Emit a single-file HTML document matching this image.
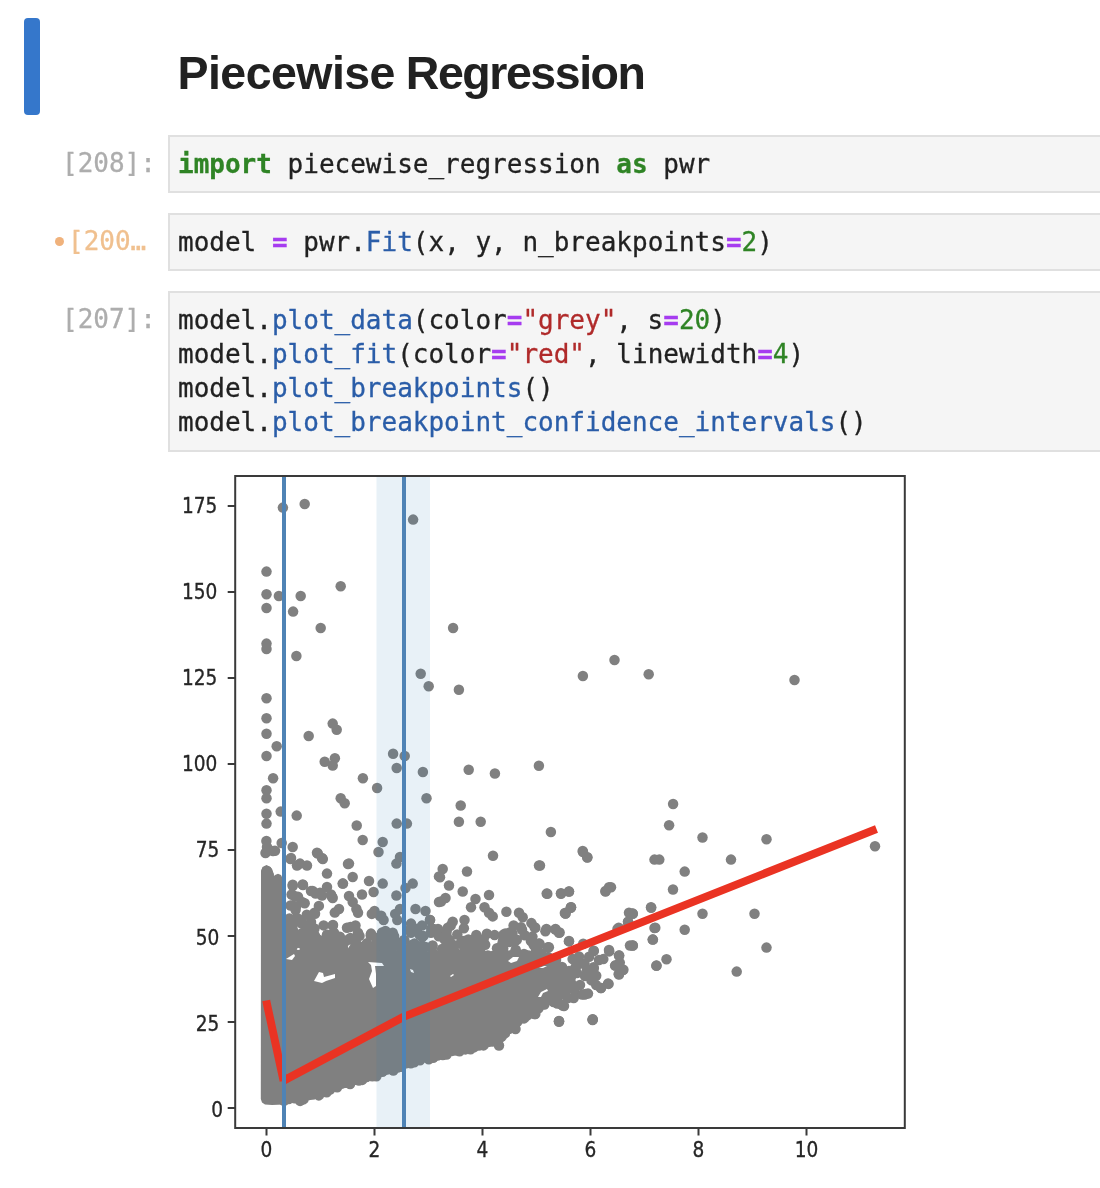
<!DOCTYPE html>
<html lang="en">
<head>
<meta charset="utf-8">
<title>Piecewise Regression</title>
<style>
html,body{margin:0;padding:0;background:#fff;}
body{width:1100px;height:1188px;position:relative;overflow:hidden;font-family:"Liberation Sans",sans-serif;}
.bar{position:absolute;left:24px;top:18px;width:16px;height:97px;background:#3577cb;border-radius:4px;}
h1{position:absolute;left:177.5px;top:44.5px;margin:0;font-family:"Liberation Sans",sans-serif;font-weight:bold;font-size:46.5px;line-height:56px;color:#212121;letter-spacing:-0.55px;word-spacing:-1.5px;white-space:nowrap;}
.cell{position:absolute;left:168px;width:940px;box-sizing:border-box;border:2px solid #e0e0e0;background:#f5f5f5;}
.cell pre{margin:0;padding:10px 0 0 8px;font-family:"DejaVu Sans Mono","Liberation Mono",monospace;font-size:26px;line-height:34px;color:#212121;white-space:pre;-webkit-text-stroke:0.3px;}
.prompt{position:absolute;font-family:"DejaVu Sans Mono","Liberation Mono",monospace;font-size:26px;line-height:34px;color:#adadad;white-space:pre;-webkit-text-stroke:0.3px;}
.prompt.dirty{color:#f0c08f;}
.dot{position:absolute;left:55px;top:237px;width:9px;height:9px;border-radius:50%;background:#f0b27c;}
.k{color:#2f8425;font-weight:bold;}
.o{color:#a63cf0;font-weight:bold;}
.n{color:#2f8425;}
.f{color:#2a5da8;}
.s{color:#b02a2a;}
#plot{position:absolute;left:0;top:456px;}
</style>
</head>
<body>
<div class="bar"></div>
<h1>Piecewise <span style="letter-spacing:-1.45px">Regression</span></h1>

<div class="prompt" style="left:62px;top:146px;">[208]:</div>
<div class="cell" style="top:135px;height:58px;"><pre><span class="k">import</span> piecewise_regression <span class="k">as</span> pwr</pre></div>

<div class="dot"></div>
<div class="prompt dirty" style="left:68px;top:224px;">[200…</div>
<div class="cell" style="top:213px;height:58px;"><pre>model <span class="o">=</span> pwr.<span class="f">Fit</span>(x, y, n_breakpoints<span class="o">=</span><span class="n">2</span>)</pre></div>

<div class="prompt" style="left:62px;top:302px;">[207]:</div>
<div class="cell" style="top:291px;height:161px;"><pre>model.<span class="f">plot_data</span>(color<span class="o">=</span><span class="s">"grey"</span>, s<span class="o">=</span><span class="n">20</span>)
model.<span class="f">plot_fit</span>(color<span class="o">=</span><span class="s">"red"</span>, linewidth<span class="o">=</span><span class="n">4</span>)
model.<span class="f">plot_breakpoints</span>()
model.<span class="f">plot_breakpoint_confidence_intervals</span>()</pre></div>

<svg id="plot" width="1100" height="732" viewBox="0 456 1100 732">
<!--PLOT-->
<defs><filter id="bl" color-interpolation-filters="sRGB" x="0" y="456" width="1100" height="732" filterUnits="userSpaceOnUse"><feGaussianBlur stdDeviation="0.7"/></filter></defs>
<g filter="url(#bl)">
<polygon fill="#808080" points="261.0,871.0 262.5,867.0 266.5,865.0 270.5,867.0 272.0,871.0 272.6,878.0 275.0,875.0 278.0,873.7 281.0,875.0 283.5,880.0 285.0,949.0 290.0,950.5 300.0,950.6 310.0,950.7 320.0,950.7 330.0,950.8 340.0,950.9 350.0,951.0 360.0,951.0 370.0,951.1 380.0,951.2 390.0,951.2 400.0,951.3 410.0,951.4 420.0,951.4 430.0,951.5 440.0,951.6 450.0,951.8 460.0,951.9 470.0,952.1 480.0,952.2 490.0,952.4 500.0,952.5 510.0,951.8 520.0,951.2 530.0,950.5 540.0,955.8 550.0,961.5 560.0,967.5 570.0,975.5 575.0,983.0 570.0,990.8 560.0,999.5 550.0,1004.2 540.0,1009.2 530.0,1014.5 520.0,1023.8 510.0,1033.5 500.0,1043.5 490.0,1046.7 480.0,1049.1 470.0,1051.5 460.0,1053.8 450.0,1055.9 440.0,1058.1 430.0,1060.3 420.0,1063.7 410.0,1067.1 400.0,1070.4 390.0,1073.8 380.0,1077.1 370.0,1080.2 360.0,1083.3 350.0,1086.3 340.0,1089.4 330.0,1092.5 320.0,1096.7 310.0,1100.0 300.0,1102.5 290.0,1103.0 284.0,1104.5 272.0,1105.0 265.0,1104.5 262.0,1102.5 260.8,1099.0"/>
<g fill="#808080"><circle cx="266.8" cy="1019.4" r="5.25"/><circle cx="267.0" cy="887.5" r="5.25"/><circle cx="267.4" cy="884.2" r="5.25"/><circle cx="266.7" cy="986.7" r="5.25"/><circle cx="267.5" cy="886.9" r="5.25"/><circle cx="266.7" cy="891.7" r="5.25"/><circle cx="268.2" cy="899.2" r="5.25"/><circle cx="267.4" cy="921.9" r="5.25"/><circle cx="268.2" cy="1002.6" r="5.25"/><circle cx="268.2" cy="961.4" r="5.25"/><circle cx="266.8" cy="1066.7" r="5.25"/><circle cx="266.5" cy="937.0" r="5.25"/><circle cx="266.8" cy="941.3" r="5.25"/><circle cx="266.9" cy="1057.1" r="5.25"/><circle cx="267.1" cy="1016.7" r="5.25"/><circle cx="267.7" cy="955.9" r="5.25"/><circle cx="266.8" cy="884.6" r="5.25"/><circle cx="266.6" cy="918.0" r="5.25"/><circle cx="266.9" cy="942.6" r="5.25"/><circle cx="267.5" cy="1004.5" r="5.25"/><circle cx="267.3" cy="1052.1" r="5.25"/><circle cx="266.7" cy="1030.4" r="5.25"/><circle cx="266.5" cy="990.7" r="5.25"/><circle cx="267.8" cy="1070.5" r="5.25"/><circle cx="266.6" cy="1094.5" r="5.25"/><circle cx="267.3" cy="897.9" r="5.25"/><circle cx="268.0" cy="905.7" r="5.25"/><circle cx="267.3" cy="982.5" r="5.25"/><circle cx="267.9" cy="1045.3" r="5.25"/><circle cx="266.9" cy="1001.6" r="5.25"/><circle cx="267.1" cy="1029.5" r="5.25"/><circle cx="267.1" cy="1006.5" r="5.25"/><circle cx="267.5" cy="1062.5" r="5.25"/><circle cx="267.0" cy="1086.4" r="5.25"/><circle cx="268.0" cy="884.8" r="5.25"/><circle cx="266.7" cy="1030.9" r="5.25"/><circle cx="268.4" cy="1058.4" r="5.25"/><circle cx="269.0" cy="935.9" r="5.25"/><circle cx="267.6" cy="876.1" r="5.25"/><circle cx="267.5" cy="976.3" r="5.25"/><circle cx="266.7" cy="884.4" r="5.25"/><circle cx="266.9" cy="1046.2" r="5.25"/><circle cx="267.0" cy="960.1" r="5.25"/><circle cx="267.0" cy="1069.7" r="5.25"/><circle cx="267.5" cy="996.3" r="5.25"/><circle cx="267.0" cy="1072.4" r="5.25"/><circle cx="267.3" cy="934.5" r="5.25"/><circle cx="268.3" cy="965.7" r="5.25"/><circle cx="267.8" cy="1089.4" r="5.25"/><circle cx="268.1" cy="905.4" r="5.25"/><circle cx="266.8" cy="924.2" r="5.25"/><circle cx="267.1" cy="981.6" r="5.25"/><circle cx="267.2" cy="871.9" r="5.25"/><circle cx="266.9" cy="966.5" r="5.25"/><circle cx="267.4" cy="1088.3" r="5.25"/><circle cx="267.4" cy="1028.4" r="5.25"/><circle cx="267.9" cy="1025.2" r="5.25"/><circle cx="266.6" cy="883.3" r="5.25"/><circle cx="267.9" cy="1070.4" r="5.25"/><circle cx="267.5" cy="1052.9" r="5.25"/><circle cx="267.3" cy="894.6" r="5.25"/><circle cx="267.1" cy="1015.6" r="5.25"/><circle cx="266.8" cy="918.6" r="5.25"/><circle cx="266.6" cy="908.0" r="5.25"/><circle cx="266.7" cy="871.1" r="5.25"/><circle cx="266.8" cy="905.5" r="5.25"/><circle cx="267.3" cy="876.8" r="5.25"/><circle cx="267.1" cy="1070.3" r="5.25"/><circle cx="266.9" cy="928.5" r="5.25"/><circle cx="266.9" cy="950.2" r="5.25"/><circle cx="266.8" cy="1064.6" r="5.25"/><circle cx="266.9" cy="1097.4" r="5.25"/><circle cx="267.6" cy="890.6" r="5.25"/><circle cx="266.7" cy="894.3" r="5.25"/><circle cx="266.9" cy="1060.0" r="5.25"/><circle cx="267.2" cy="907.8" r="5.25"/><circle cx="268.9" cy="991.4" r="5.25"/><circle cx="266.9" cy="904.4" r="5.25"/><circle cx="266.7" cy="991.4" r="5.25"/><circle cx="266.6" cy="1094.1" r="5.25"/><circle cx="267.5" cy="930.5" r="5.25"/><circle cx="267.7" cy="954.6" r="5.25"/><circle cx="267.4" cy="992.4" r="5.25"/><circle cx="268.0" cy="1048.6" r="5.25"/><circle cx="266.8" cy="1056.0" r="5.25"/><circle cx="267.1" cy="1095.6" r="5.25"/><circle cx="267.6" cy="1057.6" r="5.25"/><circle cx="267.9" cy="1039.7" r="5.25"/><circle cx="266.7" cy="952.1" r="5.25"/><circle cx="267.7" cy="877.6" r="5.25"/><circle cx="267.3" cy="930.1" r="5.25"/><circle cx="266.6" cy="1028.9" r="5.25"/><circle cx="267.5" cy="1084.6" r="5.25"/><circle cx="266.8" cy="1096.3" r="5.25"/><circle cx="267.4" cy="921.3" r="5.25"/><circle cx="266.8" cy="922.7" r="5.25"/><circle cx="266.7" cy="1013.3" r="5.25"/><circle cx="267.1" cy="1076.3" r="5.25"/><circle cx="267.1" cy="1019.9" r="5.25"/><circle cx="267.5" cy="1053.3" r="5.25"/><circle cx="267.8" cy="1078.4" r="5.25"/><circle cx="267.2" cy="1049.4" r="5.25"/><circle cx="266.5" cy="911.7" r="5.25"/><circle cx="267.6" cy="1050.9" r="5.25"/><circle cx="267.4" cy="1092.5" r="5.25"/><circle cx="268.1" cy="961.3" r="5.25"/><circle cx="268.5" cy="1036.3" r="5.25"/><circle cx="267.9" cy="909.8" r="5.25"/><circle cx="266.9" cy="1077.3" r="5.25"/><circle cx="266.9" cy="1054.9" r="5.25"/><circle cx="267.6" cy="1094.5" r="5.25"/><circle cx="268.0" cy="1020.9" r="5.25"/><circle cx="267.2" cy="900.9" r="5.25"/><circle cx="267.5" cy="874.2" r="5.25"/><circle cx="267.9" cy="991.1" r="5.25"/><circle cx="266.8" cy="1083.9" r="5.25"/><circle cx="268.4" cy="1059.4" r="5.25"/><circle cx="267.3" cy="919.1" r="5.25"/><circle cx="266.5" cy="925.8" r="5.25"/><circle cx="267.3" cy="1004.7" r="5.25"/><circle cx="266.6" cy="900.9" r="5.25"/><circle cx="267.5" cy="1078.5" r="5.25"/><circle cx="267.2" cy="1004.0" r="5.25"/><circle cx="267.4" cy="1077.2" r="5.25"/><circle cx="268.5" cy="985.4" r="5.25"/><circle cx="267.6" cy="992.3" r="5.25"/><circle cx="266.7" cy="971.3" r="5.25"/><circle cx="266.5" cy="912.7" r="5.25"/><circle cx="268.3" cy="910.3" r="5.25"/><circle cx="266.5" cy="979.0" r="5.25"/><circle cx="266.7" cy="945.3" r="5.25"/><circle cx="267.8" cy="989.2" r="5.25"/><circle cx="268.1" cy="895.2" r="5.25"/><circle cx="267.1" cy="998.7" r="5.25"/><circle cx="266.5" cy="1047.1" r="5.25"/><circle cx="267.3" cy="986.8" r="5.25"/><circle cx="268.1" cy="1079.0" r="5.25"/><circle cx="267.1" cy="972.1" r="5.25"/><circle cx="267.4" cy="987.8" r="5.25"/><circle cx="267.3" cy="1028.9" r="5.25"/><circle cx="267.7" cy="980.0" r="5.25"/><circle cx="266.9" cy="1085.7" r="5.25"/><circle cx="267.1" cy="1085.8" r="5.25"/><circle cx="268.4" cy="930.2" r="5.25"/><circle cx="268.7" cy="1062.5" r="5.25"/><circle cx="267.4" cy="902.3" r="5.25"/><circle cx="267.3" cy="887.5" r="5.25"/><circle cx="267.2" cy="925.9" r="5.25"/><circle cx="267.8" cy="1049.7" r="5.25"/><circle cx="267.2" cy="1075.5" r="5.25"/><circle cx="267.4" cy="1021.5" r="5.25"/><circle cx="267.8" cy="903.6" r="5.25"/><circle cx="268.4" cy="921.1" r="5.25"/><circle cx="268.3" cy="1088.2" r="5.25"/><circle cx="267.4" cy="1096.7" r="5.25"/><circle cx="267.2" cy="1060.8" r="5.25"/><circle cx="267.1" cy="988.6" r="5.25"/><circle cx="267.4" cy="948.3" r="5.25"/><circle cx="266.8" cy="1035.7" r="5.25"/><circle cx="267.3" cy="875.4" r="5.25"/><circle cx="267.5" cy="875.1" r="5.25"/><circle cx="266.9" cy="946.6" r="5.25"/><circle cx="267.4" cy="885.7" r="5.25"/><circle cx="267.3" cy="1095.6" r="5.25"/><circle cx="267.1" cy="894.9" r="5.25"/><circle cx="269.1" cy="931.5" r="5.25"/><circle cx="268.2" cy="932.7" r="5.25"/><circle cx="266.9" cy="900.5" r="5.25"/><circle cx="268.4" cy="1057.7" r="5.25"/><circle cx="267.5" cy="930.0" r="5.25"/><circle cx="267.8" cy="1001.1" r="5.25"/><circle cx="268.3" cy="1030.7" r="5.25"/><circle cx="266.8" cy="1027.9" r="5.25"/><circle cx="266.7" cy="968.0" r="5.25"/><circle cx="268.6" cy="1015.7" r="5.25"/><circle cx="267.5" cy="1053.8" r="5.25"/><circle cx="268.2" cy="886.2" r="5.25"/><circle cx="267.5" cy="1067.7" r="5.25"/><circle cx="267.4" cy="997.1" r="5.25"/><circle cx="266.8" cy="1082.3" r="5.25"/><circle cx="266.6" cy="991.1" r="5.25"/><circle cx="267.0" cy="925.4" r="5.25"/><circle cx="267.0" cy="882.5" r="5.25"/><circle cx="266.9" cy="917.0" r="5.25"/><circle cx="266.8" cy="1044.2" r="5.25"/><circle cx="267.3" cy="937.1" r="5.25"/><circle cx="267.1" cy="950.1" r="5.25"/><circle cx="266.5" cy="875.1" r="5.25"/><circle cx="266.5" cy="1038.1" r="5.25"/><circle cx="266.7" cy="996.6" r="5.25"/><circle cx="266.9" cy="1084.1" r="5.25"/><circle cx="267.6" cy="895.2" r="5.25"/><circle cx="266.9" cy="983.9" r="5.25"/><circle cx="267.5" cy="1061.3" r="5.25"/><circle cx="267.4" cy="1027.8" r="5.25"/><circle cx="267.2" cy="1095.0" r="5.25"/><circle cx="267.5" cy="1032.1" r="5.25"/><circle cx="268.1" cy="1016.0" r="5.25"/><circle cx="267.3" cy="883.4" r="5.25"/><circle cx="267.0" cy="900.6" r="5.25"/><circle cx="268.0" cy="929.3" r="5.25"/><circle cx="267.2" cy="908.2" r="5.25"/><circle cx="268.2" cy="1069.5" r="5.25"/><circle cx="267.5" cy="1023.9" r="5.25"/><circle cx="266.6" cy="937.8" r="5.25"/><circle cx="267.2" cy="975.8" r="5.25"/><circle cx="267.1" cy="931.0" r="5.25"/><circle cx="267.4" cy="1090.3" r="5.25"/><circle cx="267.7" cy="926.7" r="5.25"/><circle cx="266.7" cy="1091.2" r="5.25"/><circle cx="266.8" cy="871.2" r="5.25"/><circle cx="267.4" cy="958.0" r="5.25"/><circle cx="267.7" cy="916.8" r="5.25"/><circle cx="266.7" cy="986.1" r="5.25"/><circle cx="267.3" cy="891.5" r="5.25"/><circle cx="266.5" cy="962.1" r="5.25"/><circle cx="266.7" cy="940.4" r="5.25"/><circle cx="266.6" cy="924.1" r="5.25"/><circle cx="267.6" cy="1042.1" r="5.25"/><circle cx="267.1" cy="1020.9" r="5.25"/><circle cx="266.9" cy="959.8" r="5.25"/><circle cx="268.5" cy="945.4" r="5.25"/><circle cx="267.1" cy="1036.1" r="5.25"/><circle cx="266.6" cy="1017.7" r="5.25"/><circle cx="268.3" cy="1074.4" r="5.25"/><circle cx="267.0" cy="1014.0" r="5.25"/><circle cx="266.7" cy="902.8" r="5.25"/><circle cx="268.3" cy="990.4" r="5.25"/><circle cx="268.4" cy="1054.5" r="5.25"/><circle cx="266.6" cy="1059.4" r="5.25"/><circle cx="268.3" cy="1026.7" r="5.25"/><circle cx="267.6" cy="1029.1" r="5.25"/><circle cx="266.5" cy="901.3" r="5.25"/><circle cx="266.7" cy="953.2" r="5.25"/><circle cx="268.0" cy="998.3" r="5.25"/><circle cx="267.7" cy="1014.1" r="5.25"/><circle cx="267.6" cy="982.6" r="5.25"/><circle cx="267.6" cy="871.8" r="5.25"/><circle cx="267.0" cy="985.7" r="5.25"/><circle cx="268.1" cy="993.0" r="5.25"/><circle cx="266.7" cy="1039.0" r="5.25"/><circle cx="266.8" cy="928.5" r="5.25"/><circle cx="267.2" cy="1037.3" r="5.25"/><circle cx="266.9" cy="917.8" r="5.25"/><circle cx="266.7" cy="983.6" r="5.25"/><circle cx="269.2" cy="958.2" r="5.25"/><circle cx="268.0" cy="1045.9" r="5.25"/><circle cx="266.7" cy="1011.7" r="5.25"/><circle cx="266.8" cy="904.6" r="5.25"/><circle cx="266.8" cy="928.9" r="5.25"/><circle cx="266.5" cy="1000.4" r="5.25"/><circle cx="267.4" cy="873.8" r="5.25"/><circle cx="267.2" cy="1024.2" r="5.25"/><circle cx="266.8" cy="1028.8" r="5.25"/><circle cx="266.9" cy="988.8" r="5.25"/><circle cx="267.2" cy="976.9" r="5.25"/><circle cx="267.0" cy="1074.8" r="5.25"/><circle cx="266.6" cy="916.4" r="5.25"/><circle cx="268.8" cy="875.0" r="5.25"/><circle cx="266.8" cy="975.6" r="5.25"/><circle cx="276.6" cy="1092.0" r="5.25"/><circle cx="272.7" cy="939.6" r="5.25"/><circle cx="270.2" cy="1087.1" r="5.25"/><circle cx="270.2" cy="1007.8" r="5.25"/><circle cx="269.5" cy="995.2" r="5.25"/><circle cx="278.0" cy="909.9" r="5.25"/><circle cx="276.6" cy="991.9" r="5.25"/><circle cx="277.3" cy="1034.3" r="5.25"/><circle cx="270.4" cy="1076.7" r="5.25"/><circle cx="273.1" cy="886.4" r="5.25"/><circle cx="268.0" cy="988.2" r="5.25"/><circle cx="272.7" cy="946.8" r="5.25"/><circle cx="269.5" cy="956.0" r="5.25"/><circle cx="271.3" cy="1064.2" r="5.25"/><circle cx="268.0" cy="1044.7" r="5.25"/><circle cx="276.8" cy="907.2" r="5.25"/><circle cx="277.7" cy="1036.4" r="5.25"/><circle cx="277.5" cy="944.2" r="5.25"/><circle cx="271.9" cy="966.7" r="5.25"/><circle cx="278.5" cy="1009.4" r="5.25"/><circle cx="271.8" cy="974.3" r="5.25"/><circle cx="270.9" cy="891.5" r="5.25"/><circle cx="269.1" cy="1063.0" r="5.25"/><circle cx="271.0" cy="1085.0" r="5.25"/><circle cx="270.6" cy="938.9" r="5.25"/><circle cx="273.4" cy="922.4" r="5.25"/><circle cx="271.9" cy="1089.4" r="5.25"/><circle cx="277.3" cy="1058.0" r="5.25"/><circle cx="274.6" cy="1080.1" r="5.25"/><circle cx="277.9" cy="1000.7" r="5.25"/><circle cx="275.6" cy="891.8" r="5.25"/><circle cx="275.7" cy="979.3" r="5.25"/><circle cx="275.9" cy="1021.5" r="5.25"/><circle cx="271.0" cy="891.7" r="5.25"/><circle cx="277.7" cy="908.8" r="5.25"/><circle cx="273.0" cy="955.9" r="5.25"/><circle cx="271.1" cy="1042.1" r="5.25"/><circle cx="278.3" cy="937.7" r="5.25"/><circle cx="274.9" cy="946.6" r="5.25"/><circle cx="273.9" cy="967.0" r="5.25"/><circle cx="269.8" cy="916.2" r="5.25"/><circle cx="270.2" cy="1078.5" r="5.25"/><circle cx="273.2" cy="929.0" r="5.25"/><circle cx="277.5" cy="1098.2" r="5.25"/><circle cx="272.7" cy="911.4" r="5.25"/><circle cx="270.0" cy="900.8" r="5.25"/><circle cx="271.6" cy="900.9" r="5.25"/><circle cx="270.5" cy="937.3" r="5.25"/><circle cx="274.0" cy="1074.4" r="5.25"/><circle cx="275.9" cy="971.0" r="5.25"/><circle cx="272.3" cy="995.3" r="5.25"/><circle cx="272.0" cy="954.7" r="5.25"/><circle cx="268.7" cy="941.5" r="5.25"/><circle cx="278.2" cy="908.4" r="5.25"/><circle cx="273.3" cy="1018.3" r="5.25"/><circle cx="277.1" cy="928.1" r="5.25"/><circle cx="270.8" cy="935.2" r="5.25"/><circle cx="272.2" cy="978.2" r="5.25"/><circle cx="278.0" cy="1066.0" r="5.25"/><circle cx="277.2" cy="885.8" r="5.25"/><circle cx="268.3" cy="1035.7" r="5.25"/><circle cx="277.4" cy="984.2" r="5.25"/><circle cx="274.2" cy="881.0" r="5.25"/><circle cx="272.1" cy="1083.0" r="5.25"/><circle cx="276.7" cy="1067.5" r="5.25"/><circle cx="278.2" cy="935.2" r="5.25"/><circle cx="269.1" cy="914.7" r="5.25"/><circle cx="273.5" cy="1029.7" r="5.25"/><circle cx="277.9" cy="1038.3" r="5.25"/><circle cx="274.8" cy="1047.7" r="5.25"/><circle cx="272.8" cy="1001.2" r="5.25"/><circle cx="268.4" cy="1051.5" r="5.25"/><circle cx="270.4" cy="1081.5" r="5.25"/><circle cx="274.8" cy="947.2" r="5.25"/><circle cx="269.3" cy="935.9" r="5.25"/><circle cx="274.7" cy="1033.3" r="5.25"/><circle cx="269.2" cy="896.3" r="5.25"/><circle cx="273.5" cy="1008.1" r="5.25"/><circle cx="272.1" cy="929.7" r="5.25"/><circle cx="274.3" cy="883.3" r="5.25"/><circle cx="271.2" cy="981.4" r="5.25"/><circle cx="278.1" cy="1021.5" r="5.25"/><circle cx="277.3" cy="984.6" r="5.25"/><circle cx="270.5" cy="934.9" r="5.25"/><circle cx="278.1" cy="1034.6" r="5.25"/><circle cx="271.2" cy="885.7" r="5.25"/><circle cx="273.2" cy="1028.0" r="5.25"/><circle cx="272.4" cy="937.1" r="5.25"/><circle cx="275.0" cy="1082.7" r="5.25"/><circle cx="270.4" cy="888.4" r="5.25"/><circle cx="271.5" cy="972.7" r="5.25"/><circle cx="275.2" cy="924.2" r="5.25"/><circle cx="276.4" cy="1042.1" r="5.25"/><circle cx="273.3" cy="925.7" r="5.25"/><circle cx="278.2" cy="949.0" r="5.25"/><circle cx="276.6" cy="931.3" r="5.25"/><circle cx="270.3" cy="1046.8" r="5.25"/><circle cx="271.1" cy="1088.5" r="5.25"/><circle cx="273.2" cy="921.8" r="5.25"/><circle cx="270.3" cy="971.9" r="5.25"/><circle cx="275.0" cy="1087.8" r="5.25"/><circle cx="269.5" cy="966.8" r="5.25"/><circle cx="270.2" cy="1093.4" r="5.25"/><circle cx="269.5" cy="892.3" r="5.25"/><circle cx="268.6" cy="966.7" r="5.25"/><circle cx="277.4" cy="1073.6" r="5.25"/><circle cx="275.7" cy="1098.5" r="5.25"/><circle cx="277.8" cy="952.8" r="5.25"/><circle cx="269.9" cy="1085.0" r="5.25"/><circle cx="275.8" cy="888.0" r="5.25"/><circle cx="275.0" cy="963.5" r="5.25"/><circle cx="271.9" cy="953.3" r="5.25"/><circle cx="269.8" cy="881.6" r="5.25"/><circle cx="270.9" cy="957.6" r="5.25"/><circle cx="278.0" cy="908.0" r="5.25"/><circle cx="278.1" cy="926.2" r="5.25"/><circle cx="271.7" cy="1060.1" r="5.25"/><circle cx="276.6" cy="975.3" r="5.25"/><circle cx="268.5" cy="984.2" r="5.25"/><circle cx="271.9" cy="1081.5" r="5.25"/><circle cx="270.0" cy="960.4" r="5.25"/><circle cx="277.4" cy="887.6" r="5.25"/><circle cx="272.3" cy="1058.0" r="5.25"/><circle cx="276.1" cy="889.9" r="5.25"/><circle cx="268.4" cy="894.6" r="5.25"/><circle cx="277.7" cy="937.0" r="5.25"/><circle cx="275.8" cy="1076.9" r="5.25"/><circle cx="271.6" cy="940.4" r="5.25"/><circle cx="278.1" cy="1015.5" r="5.25"/><circle cx="270.8" cy="1037.2" r="5.25"/><circle cx="271.3" cy="941.1" r="5.25"/><circle cx="268.0" cy="1045.7" r="5.25"/><circle cx="277.6" cy="1019.2" r="5.25"/><circle cx="277.9" cy="886.3" r="5.25"/><circle cx="270.5" cy="984.6" r="5.25"/><circle cx="278.0" cy="1089.0" r="5.25"/><circle cx="272.1" cy="935.7" r="5.25"/><circle cx="272.5" cy="988.6" r="5.25"/><circle cx="277.7" cy="920.9" r="5.25"/><circle cx="276.4" cy="1042.0" r="5.25"/><circle cx="276.6" cy="1049.5" r="5.25"/><circle cx="274.4" cy="952.5" r="5.25"/><circle cx="271.4" cy="959.9" r="5.25"/><circle cx="276.2" cy="898.2" r="5.25"/><circle cx="270.1" cy="1045.1" r="5.25"/><circle cx="270.6" cy="895.1" r="5.25"/><circle cx="268.4" cy="1001.5" r="5.25"/><circle cx="271.4" cy="1094.7" r="5.25"/><circle cx="277.3" cy="1096.3" r="5.25"/><circle cx="270.8" cy="899.3" r="5.25"/><circle cx="269.0" cy="989.7" r="5.25"/><circle cx="275.5" cy="978.4" r="5.25"/><circle cx="270.5" cy="971.9" r="5.25"/><circle cx="274.5" cy="1028.0" r="5.25"/><circle cx="275.9" cy="1065.6" r="5.25"/><circle cx="275.0" cy="907.4" r="5.25"/><circle cx="276.8" cy="945.0" r="5.25"/><circle cx="274.0" cy="962.3" r="5.25"/><circle cx="275.7" cy="924.4" r="5.25"/><circle cx="270.6" cy="934.5" r="5.25"/><circle cx="284" cy="952.6" r="5.25"/><circle cx="284" cy="1100.9" r="5.25"/><circle cx="288.7" cy="953.3" r="5.25"/><circle cx="288.7" cy="1099.1" r="5.25"/><circle cx="294.7" cy="954.1" r="5.25"/><circle cx="294.7" cy="1098.2" r="5.25"/><circle cx="300.1" cy="954.7" r="5.25"/><circle cx="300.1" cy="1100.9" r="5.25"/><circle cx="303.4" cy="954.0" r="5.25"/><circle cx="303.4" cy="1099.4" r="5.25"/><circle cx="309.0" cy="955.8" r="5.25"/><circle cx="309.0" cy="1094.9" r="5.25"/><circle cx="312.8" cy="952.7" r="5.25"/><circle cx="312.8" cy="1094.5" r="5.25"/><circle cx="318.8" cy="954.6" r="5.25"/><circle cx="318.8" cy="1095.4" r="5.25"/><circle cx="322.9" cy="955.7" r="5.25"/><circle cx="322.9" cy="1091.9" r="5.25"/><circle cx="326.7" cy="955.4" r="5.25"/><circle cx="326.7" cy="1092.2" r="5.25"/><circle cx="330.0" cy="954.7" r="5.25"/><circle cx="330.0" cy="1089.5" r="5.25"/><circle cx="333.6" cy="953.8" r="5.25"/><circle cx="333.6" cy="1086.4" r="5.25"/><circle cx="337.2" cy="953.4" r="5.25"/><circle cx="337.2" cy="1087.2" r="5.25"/><circle cx="342.2" cy="953.2" r="5.25"/><circle cx="342.2" cy="1083.3" r="5.25"/><circle cx="346.2" cy="955.1" r="5.25"/><circle cx="346.2" cy="1082.8" r="5.25"/><circle cx="350.1" cy="953.3" r="5.25"/><circle cx="350.1" cy="1084.0" r="5.25"/><circle cx="354.8" cy="952.7" r="5.25"/><circle cx="354.8" cy="1079.8" r="5.25"/><circle cx="358.9" cy="954.7" r="5.25"/><circle cx="358.9" cy="1080.6" r="5.25"/><circle cx="362.2" cy="953.2" r="5.25"/><circle cx="362.2" cy="1079.9" r="5.25"/><circle cx="366.5" cy="953.7" r="5.25"/><circle cx="366.5" cy="1077.0" r="5.25"/><circle cx="372.3" cy="953.9" r="5.25"/><circle cx="372.3" cy="1076.2" r="5.25"/><circle cx="376.4" cy="954.3" r="5.25"/><circle cx="376.4" cy="1076.2" r="5.25"/><circle cx="382.4" cy="954.1" r="5.25"/><circle cx="382.4" cy="1071.7" r="5.25"/><circle cx="387.6" cy="953.5" r="5.25"/><circle cx="387.6" cy="1069.2" r="5.25"/><circle cx="393.3" cy="954.4" r="5.25"/><circle cx="393.3" cy="1070.5" r="5.25"/><circle cx="397.5" cy="956.3" r="5.25"/><circle cx="397.5" cy="1067.6" r="5.25"/><circle cx="401.0" cy="952.9" r="5.25"/><circle cx="401.0" cy="1066.8" r="5.25"/><circle cx="405.9" cy="956.5" r="5.25"/><circle cx="405.9" cy="1063.3" r="5.25"/><circle cx="410.8" cy="954.4" r="5.25"/><circle cx="410.8" cy="1063.3" r="5.25"/><circle cx="414.2" cy="954.0" r="5.25"/><circle cx="414.2" cy="1062.2" r="5.25"/><circle cx="420.0" cy="953.4" r="5.25"/><circle cx="420.0" cy="1060.2" r="5.25"/><circle cx="425.4" cy="956.8" r="5.25"/><circle cx="425.4" cy="1057.2" r="5.25"/><circle cx="428.8" cy="956.8" r="5.25"/><circle cx="428.8" cy="1059.2" r="5.25"/><circle cx="433.2" cy="953.3" r="5.25"/><circle cx="433.2" cy="1057.7" r="5.25"/><circle cx="437.4" cy="956.7" r="5.25"/><circle cx="437.4" cy="1055.6" r="5.25"/><circle cx="442.8" cy="953.8" r="5.25"/><circle cx="442.8" cy="1055.1" r="5.25"/><circle cx="446.5" cy="954.9" r="5.25"/><circle cx="446.5" cy="1054.6" r="5.25"/><circle cx="452.0" cy="954.0" r="5.25"/><circle cx="452.0" cy="1050.9" r="5.25"/><circle cx="456.2" cy="955.4" r="5.25"/><circle cx="456.2" cy="1050.6" r="5.25"/><circle cx="459.6" cy="954.4" r="5.25"/><circle cx="459.6" cy="1051.3" r="5.25"/><circle cx="465.3" cy="953.7" r="5.25"/><circle cx="465.3" cy="1049.4" r="5.25"/><circle cx="470.5" cy="953.7" r="5.25"/><circle cx="470.5" cy="1049.3" r="5.25"/><circle cx="473.9" cy="956.0" r="5.25"/><circle cx="473.9" cy="1047.3" r="5.25"/><circle cx="478.8" cy="954.9" r="5.25"/><circle cx="478.8" cy="1045.6" r="5.25"/><circle cx="483.5" cy="955.5" r="5.25"/><circle cx="483.5" cy="1045.4" r="5.25"/><circle cx="487.9" cy="955.6" r="5.25"/><circle cx="487.9" cy="1041.8" r="5.25"/><circle cx="492.7" cy="955.9" r="5.25"/><circle cx="492.7" cy="1041.5" r="5.25"/><circle cx="498.0" cy="957.1" r="5.25"/><circle cx="498.0" cy="1041.1" r="5.25"/><circle cx="501.5" cy="955.8" r="5.25"/><circle cx="501.5" cy="1036.9" r="5.25"/><circle cx="504.9" cy="955.4" r="5.25"/><circle cx="504.9" cy="1033.4" r="5.25"/><circle cx="509.3" cy="955.4" r="5.25"/><circle cx="509.3" cy="1028.9" r="5.25"/><circle cx="514.2" cy="953.4" r="5.25"/><circle cx="514.2" cy="1026.8" r="5.25"/><circle cx="519.5" cy="954.7" r="5.25"/><circle cx="519.5" cy="1019.0" r="5.25"/><circle cx="524.0" cy="953.9" r="5.25"/><circle cx="524.0" cy="1018.4" r="5.25"/><circle cx="527.4" cy="955.6" r="5.25"/><circle cx="527.4" cy="1015.4" r="5.25"/><circle cx="532.6" cy="956.7" r="5.25"/><circle cx="532.6" cy="1008.4" r="5.25"/><circle cx="538.6" cy="958.5" r="5.25"/><circle cx="538.6" cy="1008.3" r="5.25"/><circle cx="544.3" cy="960.3" r="5.25"/><circle cx="544.3" cy="1004.5" r="5.25"/><circle cx="550.1" cy="963.3" r="5.25"/><circle cx="550.1" cy="1000.0" r="5.25"/><circle cx="555.4" cy="966.9" r="5.25"/><circle cx="555.4" cy="999.7" r="5.25"/><circle cx="559.2" cy="971.8" r="5.25"/><circle cx="559.2" cy="995.0" r="5.25"/><circle cx="563.7" cy="975.6" r="5.25"/><circle cx="563.7" cy="991.6" r="5.25"/><circle cx="567.5" cy="977.0" r="5.25"/><circle cx="567.5" cy="988.8" r="5.25"/><circle cx="570.6" cy="978.2" r="5.25"/><circle cx="570.6" cy="985.5" r="5.25"/><circle cx="395.2" cy="913.9" r="5.25"/><circle cx="323.6" cy="925.4" r="5.25"/><circle cx="316.1" cy="937.9" r="5.25"/><circle cx="389.1" cy="942.9" r="5.25"/><circle cx="422.2" cy="937.0" r="5.25"/><circle cx="381.2" cy="915.7" r="5.25"/><circle cx="388.2" cy="942.0" r="5.25"/><circle cx="411.7" cy="945.1" r="5.25"/><circle cx="438.7" cy="936.2" r="5.25"/><circle cx="350.4" cy="926.9" r="5.25"/><circle cx="361.9" cy="946.9" r="5.25"/><circle cx="404.1" cy="949.2" r="5.25"/><circle cx="414.8" cy="945.3" r="5.25"/><circle cx="382.0" cy="932.6" r="5.25"/><circle cx="343.8" cy="950.0" r="5.25"/><circle cx="304.7" cy="947.4" r="5.25"/><circle cx="386.2" cy="940.9" r="5.25"/><circle cx="371.8" cy="913.9" r="5.25"/><circle cx="318.5" cy="945.9" r="5.25"/><circle cx="391.4" cy="949.6" r="5.25"/><circle cx="300.4" cy="943.0" r="5.25"/><circle cx="314.9" cy="942.9" r="5.25"/><circle cx="331.4" cy="936.0" r="5.25"/><circle cx="382.5" cy="946.3" r="5.25"/><circle cx="387.4" cy="939.7" r="5.25"/><circle cx="318.9" cy="905.9" r="5.25"/><circle cx="334.1" cy="947.4" r="5.25"/><circle cx="313.4" cy="933.7" r="5.25"/><circle cx="422.0" cy="925.6" r="5.25"/><circle cx="356.3" cy="945.1" r="5.25"/><circle cx="301.6" cy="933.4" r="5.25"/><circle cx="378.7" cy="943.1" r="5.25"/><circle cx="390.4" cy="940.6" r="5.25"/><circle cx="431.2" cy="928.8" r="5.25"/><circle cx="334.8" cy="912.6" r="5.25"/><circle cx="306.2" cy="937.9" r="5.25"/><circle cx="356.8" cy="945.7" r="5.25"/><circle cx="308.2" cy="925.9" r="5.25"/><circle cx="301.7" cy="937.2" r="5.25"/><circle cx="431.7" cy="947.5" r="5.25"/><circle cx="327.9" cy="935.0" r="5.25"/><circle cx="371.0" cy="933.6" r="5.25"/><circle cx="413.9" cy="946.9" r="5.25"/><circle cx="343.3" cy="944.3" r="5.25"/><circle cx="306.8" cy="914.8" r="5.25"/><circle cx="409.6" cy="929.9" r="5.25"/><circle cx="300.9" cy="920.2" r="5.25"/><circle cx="404.3" cy="940.0" r="5.25"/><circle cx="403.8" cy="940.4" r="5.25"/><circle cx="331.6" cy="948.2" r="5.25"/><circle cx="332.5" cy="949.4" r="5.25"/><circle cx="347.0" cy="927.8" r="5.25"/><circle cx="397.3" cy="920.1" r="5.25"/><circle cx="286.9" cy="941.1" r="5.25"/><circle cx="289.8" cy="938.7" r="5.25"/><circle cx="287.5" cy="935.3" r="5.25"/><circle cx="291.9" cy="942.8" r="5.25"/><circle cx="289.4" cy="947.6" r="5.25"/><circle cx="286.8" cy="930.3" r="5.25"/><circle cx="286.2" cy="944.9" r="5.25"/><circle cx="289.7" cy="948.9" r="5.25"/><circle cx="286.1" cy="947.6" r="5.25"/><circle cx="290.4" cy="936.6" r="5.25"/><circle cx="463.9" cy="928.2" r="5.25"/><circle cx="503.1" cy="940.2" r="5.25"/><circle cx="486.9" cy="933.7" r="5.25"/><circle cx="509.8" cy="932.5" r="5.25"/><circle cx="483.7" cy="939.1" r="5.25"/><circle cx="497.0" cy="948.3" r="5.25"/><circle cx="461.2" cy="942.3" r="5.25"/><circle cx="447.8" cy="927.8" r="5.25"/><circle cx="454.5" cy="951.7" r="5.25"/><circle cx="450.7" cy="925.6" r="5.25"/><circle cx="474.5" cy="950.5" r="5.25"/><circle cx="442.9" cy="951.6" r="5.25"/><circle cx="509.3" cy="942.0" r="5.25"/><circle cx="509.7" cy="938.7" r="5.25"/><circle cx="446.6" cy="943.1" r="5.25"/><circle cx="476.3" cy="935.0" r="5.25"/><circle cx="522.0" cy="929.8" r="5.25"/><circle cx="446.6" cy="931.8" r="5.25"/><circle cx="531.4" cy="923.1" r="5.25"/><circle cx="450.7" cy="949.7" r="5.25"/><circle cx="451.2" cy="951.6" r="5.25"/><circle cx="524.8" cy="935.3" r="5.25"/><circle cx="503.4" cy="934.6" r="5.25"/><circle cx="503.2" cy="948.6" r="5.25"/><circle cx="450.0" cy="951.0" r="5.25"/><circle cx="515.7" cy="949.7" r="5.25"/><circle cx="471.9" cy="946.5" r="5.25"/><circle cx="442.1" cy="949.0" r="5.25"/><circle cx="468.3" cy="939.4" r="5.25"/><circle cx="380.7" cy="937.8" r="5.25"/><circle cx="530.9" cy="941.1" r="5.25"/><circle cx="502.5" cy="943.1" r="5.25"/><circle cx="295.8" cy="939.4" r="5.25"/><circle cx="398.0" cy="945.9" r="5.25"/><circle cx="375.4" cy="944.7" r="5.25"/><circle cx="423.5" cy="935.9" r="5.25"/><circle cx="505.3" cy="933.6" r="5.25"/><circle cx="494.6" cy="935.1" r="5.25"/><circle cx="288.3" cy="935.6" r="5.25"/><circle cx="480.1" cy="949.6" r="5.25"/><circle cx="289.1" cy="940.8" r="5.25"/><circle cx="411.9" cy="946.3" r="5.25"/><circle cx="334.5" cy="940.9" r="5.25"/><circle cx="375.5" cy="947.0" r="5.25"/><circle cx="353.7" cy="949.0" r="5.25"/><circle cx="359.5" cy="935.9" r="5.25"/><circle cx="464.3" cy="941.0" r="5.25"/><circle cx="315.7" cy="943.5" r="5.25"/><circle cx="308.4" cy="946.2" r="5.25"/><circle cx="463.7" cy="946.2" r="5.25"/><circle cx="446.2" cy="938.4" r="5.25"/><circle cx="389.1" cy="939.1" r="5.25"/><circle cx="512.4" cy="933.6" r="5.25"/><circle cx="511.9" cy="932.5" r="5.25"/><circle cx="339.9" cy="936.7" r="5.25"/><circle cx="515.1" cy="941.0" r="5.25"/><circle cx="383.6" cy="947.9" r="5.25"/><circle cx="346.9" cy="940.3" r="5.25"/><circle cx="421.9" cy="945.6" r="5.25"/><circle cx="477.8" cy="943.6" r="5.25"/><circle cx="375.8" cy="937.9" r="5.25"/><circle cx="327.1" cy="947.2" r="5.25"/><circle cx="454.8" cy="945.4" r="5.25"/><circle cx="330.7" cy="939.9" r="5.25"/><circle cx="482.9" cy="942.4" r="5.25"/><circle cx="319.8" cy="940.3" r="5.25"/><circle cx="511.1" cy="936.3" r="5.25"/><circle cx="336.3" cy="937.4" r="5.25"/><circle cx="465.2" cy="947.2" r="5.25"/><circle cx="327.0" cy="934.8" r="5.25"/><circle cx="350.4" cy="937.9" r="5.25"/><circle cx="419.6" cy="934.9" r="5.25"/><circle cx="370.7" cy="935.4" r="5.25"/><circle cx="533.7" cy="945.1" r="5.25"/><circle cx="313.7" cy="949.3" r="5.25"/><circle cx="313.6" cy="938.9" r="5.25"/><circle cx="535.9" cy="946.3" r="5.25"/><circle cx="472.8" cy="939.8" r="5.25"/><circle cx="337.4" cy="943.5" r="5.25"/><circle cx="314.9" cy="935.7" r="5.25"/><circle cx="385.9" cy="932.6" r="5.25"/><circle cx="388.6" cy="946.2" r="5.25"/><circle cx="462.7" cy="941.0" r="5.25"/><circle cx="447.4" cy="940.3" r="5.25"/><circle cx="323.7" cy="942.9" r="5.25"/><circle cx="390.0" cy="945.3" r="5.25"/><circle cx="516.8" cy="939.7" r="5.25"/><circle cx="432.6" cy="945.5" r="5.25"/><circle cx="394.1" cy="936.1" r="5.25"/><circle cx="470.0" cy="947.8" r="5.25"/><circle cx="483.1" cy="944.6" r="5.25"/><circle cx="502.8" cy="944.2" r="5.25"/><circle cx="449.7" cy="940.2" r="5.25"/><circle cx="366.9" cy="943.3" r="5.25"/><circle cx="312.7" cy="939.6" r="5.25"/><circle cx="485.2" cy="944.8" r="5.25"/><circle cx="446.7" cy="936.5" r="5.25"/><circle cx="394.7" cy="940.2" r="5.25"/><circle cx="444.6" cy="939.4" r="5.25"/><circle cx="294.4" cy="943.7" r="5.25"/><circle cx="289.0" cy="926.6" r="5.25"/><circle cx="295.6" cy="910.1" r="5.25"/><circle cx="292.4" cy="946.4" r="5.25"/><circle cx="287.4" cy="919.7" r="5.25"/><circle cx="288.8" cy="934.5" r="5.25"/><circle cx="297.3" cy="918.2" r="5.25"/><circle cx="288.1" cy="921.6" r="5.25"/><circle cx="293.0" cy="930.5" r="5.25"/><circle cx="292.6" cy="925.6" r="5.25"/><circle cx="296.1" cy="918.3" r="5.25"/><circle cx="291.5" cy="944.8" r="5.25"/><circle cx="289.3" cy="928.4" r="5.25"/><circle cx="291.3" cy="933.3" r="5.25"/><circle cx="282.9" cy="507.6" r="5.25"/><circle cx="304.7" cy="504" r="5.25"/><circle cx="413.1" cy="519.6" r="5.25"/><circle cx="266.5" cy="571.6" r="5.25"/><circle cx="266.5" cy="594.2" r="5.25"/><circle cx="278.9" cy="596" r="5.25"/><circle cx="300.7" cy="596" r="5.25"/><circle cx="340.7" cy="586.2" r="5.25"/><circle cx="266.5" cy="608" r="5.25"/><circle cx="293.1" cy="611.6" r="5.25"/><circle cx="320.7" cy="628" r="5.25"/><circle cx="453.1" cy="628" r="5.25"/><circle cx="266.5" cy="643.6" r="5.25"/><circle cx="266.5" cy="649" r="5.25"/><circle cx="296.4" cy="656" r="5.25"/><circle cx="420.7" cy="673.8" r="5.25"/><circle cx="428.7" cy="686.2" r="5.25"/><circle cx="458.9" cy="689.8" r="5.25"/><circle cx="266.5" cy="698.2" r="5.25"/><circle cx="266.5" cy="718.2" r="5.25"/><circle cx="332.7" cy="723.6" r="5.25"/><circle cx="336.7" cy="729.8" r="5.25"/><circle cx="266.5" cy="733.8" r="5.25"/><circle cx="308.7" cy="736" r="5.25"/><circle cx="276.7" cy="746.2" r="5.25"/><circle cx="266.5" cy="756" r="5.25"/><circle cx="393.1" cy="753.8" r="5.25"/><circle cx="404.7" cy="756" r="5.25"/><circle cx="334.9" cy="758.2" r="5.25"/><circle cx="324.7" cy="761.8" r="5.25"/><circle cx="332.7" cy="765.5" r="5.25"/><circle cx="396.7" cy="768" r="5.25"/><circle cx="422.9" cy="772" r="5.25"/><circle cx="468.7" cy="769.8" r="5.25"/><circle cx="494.9" cy="773.5" r="5.25"/><circle cx="538.9" cy="765.8" r="5.25"/><circle cx="273.1" cy="778.2" r="5.25"/><circle cx="362.9" cy="778.2" r="5.25"/><circle cx="377.1" cy="788" r="5.25"/><circle cx="266.5" cy="790.2" r="5.25"/><circle cx="266.5" cy="798.2" r="5.25"/><circle cx="426.5" cy="798.2" r="5.25"/><circle cx="340.7" cy="798.2" r="5.25"/><circle cx="344.7" cy="803.3" r="5.25"/><circle cx="460.7" cy="805.5" r="5.25"/><circle cx="266.5" cy="813.8" r="5.25"/><circle cx="280.7" cy="811.6" r="5.25"/><circle cx="296.7" cy="815.6" r="5.25"/><circle cx="266.5" cy="823.6" r="5.25"/><circle cx="356.7" cy="825.5" r="5.25"/><circle cx="396.7" cy="823.6" r="5.25"/><circle cx="406.9" cy="823.6" r="5.25"/><circle cx="458.9" cy="821.8" r="5.25"/><circle cx="480.7" cy="821.8" r="5.25"/><circle cx="550.9" cy="832" r="5.25"/><circle cx="614.5" cy="660" r="5.25"/><circle cx="582.9" cy="676" r="5.25"/><circle cx="648.7" cy="674.2" r="5.25"/><circle cx="794.5" cy="680" r="5.25"/><circle cx="673.1" cy="804" r="5.25"/><circle cx="669.1" cy="825.3" r="5.25"/><circle cx="702.5" cy="837.5" r="5.25"/><circle cx="766.5" cy="839.3" r="5.25"/><circle cx="875" cy="846.2" r="5.25"/><circle cx="583" cy="852" r="5.25"/><circle cx="587.3" cy="857.5" r="5.25"/><circle cx="654.5" cy="859.6" r="5.25"/><circle cx="659.3" cy="859.6" r="5.25"/><circle cx="731" cy="859.6" r="5.25"/><circle cx="684.7" cy="871.6" r="5.25"/><circle cx="540" cy="865.5" r="5.25"/><circle cx="609" cy="887.3" r="5.25"/><circle cx="605.5" cy="891.6" r="5.25"/><circle cx="673" cy="889.5" r="5.25"/><circle cx="547.3" cy="893.8" r="5.25"/><circle cx="561" cy="893.8" r="5.25"/><circle cx="569" cy="891.6" r="5.25"/><circle cx="571" cy="907.3" r="5.25"/><circle cx="565.5" cy="913.5" r="5.25"/><circle cx="651" cy="907.3" r="5.25"/><circle cx="632.7" cy="913.8" r="5.25"/><circle cx="702.5" cy="913.8" r="5.25"/><circle cx="754.5" cy="913.8" r="5.25"/><circle cx="628.4" cy="923.6" r="5.25"/><circle cx="617.5" cy="929" r="5.25"/><circle cx="654.5" cy="928" r="5.25"/><circle cx="684.7" cy="929.8" r="5.25"/><circle cx="652.7" cy="939.6" r="5.25"/><circle cx="632.7" cy="945.5" r="5.25"/><circle cx="766.5" cy="947.6" r="5.25"/><circle cx="666.5" cy="959.3" r="5.25"/><circle cx="656.4" cy="965.8" r="5.25"/><circle cx="736.7" cy="971.6" r="5.25"/><circle cx="559" cy="1021" r="5.25"/><circle cx="592.7" cy="1019.3" r="5.25"/><circle cx="267" cy="847" r="5.25"/><circle cx="273" cy="851" r="5.25"/><circle cx="265.5" cy="853" r="5.25"/><circle cx="292.7" cy="847" r="5.25"/><circle cx="291" cy="858" r="5.25"/><circle cx="300" cy="863.6" r="5.25"/><circle cx="307" cy="865.5" r="5.25"/><circle cx="317" cy="852.7" r="5.25"/><circle cx="322" cy="858" r="5.25"/><circle cx="362.7" cy="840" r="5.25"/><circle cx="382.7" cy="842" r="5.25"/><circle cx="378.5" cy="852" r="5.25"/><circle cx="400" cy="857" r="5.25"/><circle cx="396.4" cy="863.6" r="5.25"/><circle cx="349" cy="863.6" r="5.25"/><circle cx="327" cy="873.6" r="5.25"/><circle cx="352.7" cy="877" r="5.25"/><circle cx="342.7" cy="883.6" r="5.25"/><circle cx="369" cy="881" r="5.25"/><circle cx="373.6" cy="892" r="5.25"/><circle cx="382.7" cy="883.6" r="5.25"/><circle cx="412.7" cy="883.6" r="5.25"/><circle cx="405.5" cy="888" r="5.25"/><circle cx="396.4" cy="895.5" r="5.25"/><circle cx="439" cy="876.4" r="5.25"/><circle cx="439" cy="902" r="5.25"/><circle cx="302.7" cy="884.5" r="5.25"/><circle cx="292.7" cy="886" r="5.25"/><circle cx="312.7" cy="891" r="5.25"/><circle cx="320" cy="892.7" r="5.25"/><circle cx="327" cy="887" r="5.25"/><circle cx="331" cy="894.5" r="5.25"/><circle cx="332.7" cy="898" r="5.25"/><circle cx="294.5" cy="896" r="5.25"/><circle cx="302" cy="902" r="5.25"/><circle cx="292.7" cy="905.5" r="5.25"/><circle cx="339" cy="909" r="5.25"/><circle cx="349" cy="896" r="5.25"/><circle cx="352.7" cy="902" r="5.25"/><circle cx="356.4" cy="909" r="5.25"/><circle cx="362" cy="894.5" r="5.25"/><circle cx="358" cy="912.7" r="5.25"/><circle cx="374.5" cy="911" r="5.25"/><circle cx="380" cy="916" r="5.25"/><circle cx="383.6" cy="920" r="5.25"/><circle cx="400" cy="909" r="5.25"/><circle cx="415.5" cy="909" r="5.25"/><circle cx="425.5" cy="911" r="5.25"/><circle cx="430" cy="920" r="5.25"/><circle cx="411" cy="923.6" r="5.25"/><circle cx="417" cy="929" r="5.25"/><circle cx="431" cy="932.7" r="5.25"/><circle cx="438" cy="929" r="5.25"/><circle cx="314.5" cy="912.7" r="5.25"/><circle cx="311" cy="922" r="5.25"/><circle cx="302" cy="923.6" r="5.25"/><circle cx="312.7" cy="931" r="5.25"/><circle cx="305.5" cy="934.5" r="5.25"/><circle cx="289" cy="920" r="5.25"/><circle cx="291" cy="929" r="5.25"/><circle cx="294.5" cy="938" r="5.25"/><circle cx="291" cy="945.5" r="5.25"/><circle cx="332.7" cy="925.5" r="5.25"/><circle cx="332.7" cy="934.5" r="5.25"/><circle cx="334.5" cy="942" r="5.25"/><circle cx="355.5" cy="925.5" r="5.25"/><circle cx="358" cy="932.7" r="5.25"/><circle cx="352.7" cy="940" r="5.25"/><circle cx="356.4" cy="943.6" r="5.25"/><circle cx="385.5" cy="931" r="5.25"/><circle cx="392.7" cy="932.7" r="5.25"/><circle cx="387" cy="938" r="5.25"/><circle cx="398" cy="943.6" r="5.25"/><circle cx="411" cy="932.7" r="5.25"/><circle cx="414.5" cy="943.6" r="5.25"/><circle cx="425.5" cy="947" r="5.25"/><circle cx="320" cy="945.5" r="5.25"/><circle cx="312.7" cy="942" r="5.25"/><circle cx="371" cy="947" r="5.25"/><circle cx="378" cy="945.5" r="5.25"/><circle cx="493" cy="855.8" r="5.25"/><circle cx="539" cy="865.5" r="5.25"/><circle cx="582.7" cy="851" r="5.25"/><circle cx="587.3" cy="857.3" r="5.25"/><circle cx="442.7" cy="869" r="5.25"/><circle cx="440" cy="877.3" r="5.25"/><circle cx="449" cy="885.5" r="5.25"/><circle cx="467" cy="871.5" r="5.25"/><circle cx="462.7" cy="891.5" r="5.25"/><circle cx="441" cy="901.5" r="5.25"/><circle cx="445.5" cy="898" r="5.25"/><circle cx="489" cy="895" r="5.25"/><circle cx="475.5" cy="899" r="5.25"/><circle cx="471" cy="907.3" r="5.25"/><circle cx="484.5" cy="907.3" r="5.25"/><circle cx="489" cy="912.7" r="5.25"/><circle cx="492.7" cy="916.4" r="5.25"/><circle cx="506.4" cy="911.8" r="5.25"/><circle cx="519" cy="912.7" r="5.25"/><circle cx="522.7" cy="917.3" r="5.25"/><circle cx="513.6" cy="925.5" r="5.25"/><circle cx="521" cy="927.3" r="5.25"/><circle cx="546.7" cy="893.6" r="5.25"/><circle cx="561" cy="893.3" r="5.25"/><circle cx="569" cy="891.5" r="5.25"/><circle cx="571" cy="907.3" r="5.25"/><circle cx="565.5" cy="913.6" r="5.25"/><circle cx="605.5" cy="891" r="5.25"/><circle cx="611" cy="887.3" r="5.25"/><circle cx="452.7" cy="921.8" r="5.25"/><circle cx="457.3" cy="934.5" r="5.25"/><circle cx="464.5" cy="920" r="5.25"/><circle cx="433.6" cy="929" r="5.25"/><circle cx="430" cy="920" r="5.25"/><circle cx="451" cy="949" r="5.25"/><circle cx="534.5" cy="927.3" r="5.25"/><circle cx="546.4" cy="929" r="5.25"/><circle cx="555.5" cy="929" r="5.25"/><circle cx="559" cy="932.7" r="5.25"/><circle cx="531.8" cy="938" r="5.25"/><circle cx="539" cy="943.6" r="5.25"/><circle cx="548" cy="947.3" r="5.25"/><circle cx="569" cy="941" r="5.25"/><circle cx="629" cy="912.7" r="5.25"/><circle cx="628" cy="921.8" r="5.25"/><circle cx="630" cy="945.5" r="5.25"/><circle cx="609" cy="950" r="5.25"/><circle cx="619" cy="955.5" r="5.25"/><circle cx="615.5" cy="965.5" r="5.25"/><circle cx="622.7" cy="970" r="5.25"/><circle cx="619" cy="974.5" r="5.25"/><circle cx="608" cy="983.6" r="5.25"/><circle cx="601" cy="988" r="5.25"/><circle cx="593.6" cy="951" r="5.25"/><circle cx="599" cy="960" r="5.25"/><circle cx="593.6" cy="967.3" r="5.25"/><circle cx="590" cy="976.4" r="5.25"/><circle cx="584.5" cy="994.5" r="5.25"/><circle cx="588" cy="993.6" r="5.25"/><circle cx="539" cy="998" r="5.25"/><circle cx="542.7" cy="1002.7" r="5.25"/><circle cx="534.5" cy="1014" r="5.25"/><circle cx="559" cy="1021.3" r="5.25"/><circle cx="592.7" cy="1019.6" r="5.25"/><circle cx="517.3" cy="1021.8" r="5.25"/><circle cx="515.5" cy="1029" r="5.25"/><circle cx="499" cy="1045.5" r="5.25"/><circle cx="557.3" cy="1003.6" r="5.25"/><circle cx="562.7" cy="1005.5" r="5.25"/><circle cx="568" cy="998" r="5.25"/><circle cx="579" cy="956.4" r="5.25"/><circle cx="584.5" cy="963.6" r="5.25"/><circle cx="575.5" cy="967.3" r="5.25"/><circle cx="266.4" cy="841" r="5.25"/><circle cx="266.4" cy="851.9" r="5.25"/><circle cx="275" cy="850.8" r="5.25"/><circle cx="281.7" cy="843" r="5.25"/><circle cx="290.5" cy="859" r="5.25"/><circle cx="297" cy="865.5" r="5.25"/><circle cx="317.8" cy="853.5" r="5.25"/><circle cx="322.8" cy="859" r="5.25"/><circle cx="343" cy="883.6" r="5.25"/><circle cx="348" cy="864" r="5.25"/><circle cx="292.7" cy="884.7" r="5.25"/><circle cx="303" cy="885" r="5.25"/><circle cx="311" cy="891" r="5.25"/><circle cx="315.6" cy="893.5" r="5.25"/><circle cx="322" cy="895.6" r="5.25"/><circle cx="332" cy="896.7" r="5.25"/><circle cx="291.6" cy="894.5" r="5.25"/><circle cx="298" cy="896.7" r="5.25"/><circle cx="290.5" cy="905.5" r="5.25"/><circle cx="296" cy="906.6" r="5.25"/><circle cx="304.7" cy="903.3" r="5.25"/><circle cx="315" cy="913.7" r="5.25"/><circle cx="289.4" cy="918.6" r="5.25"/><circle cx="291.6" cy="928.5" r="5.25"/><circle cx="301.4" cy="923" r="5.25"/><circle cx="309" cy="925" r="5.25"/><circle cx="314.5" cy="928.5" r="5.25"/><circle cx="304.7" cy="931.7" r="5.25"/><circle cx="311.3" cy="935" r="5.25"/><circle cx="298" cy="939.4" r="5.25"/><circle cx="311" cy="943.8" r="5.25"/><circle cx="320" cy="948" r="5.25"/><circle cx="333" cy="925" r="5.25"/><circle cx="334" cy="932.8" r="5.25"/><circle cx="336.4" cy="941.6" r="5.25"/><circle cx="570.8" cy="907.7" r="5.25"/><circle cx="564.9" cy="913" r="5.25"/><circle cx="651.2" cy="907.7" r="5.25"/><circle cx="632.8" cy="913.6" r="5.25"/><circle cx="628.1" cy="921.9" r="5.25"/><circle cx="618.7" cy="927.8" r="5.25"/><circle cx="655.3" cy="927.8" r="5.25"/><circle cx="652.9" cy="939.6" r="5.25"/><circle cx="632.8" cy="945.5" r="5.25"/><circle cx="656.5" cy="965.6" r="5.25"/><circle cx="535.3" cy="927.8" r="5.25"/><circle cx="545.4" cy="931.3" r="5.25"/><circle cx="555.4" cy="929.6" r="5.25"/><circle cx="559.6" cy="932.5" r="5.25"/><circle cx="532.4" cy="936.6" r="5.25"/><circle cx="539.5" cy="943.7" r="5.25"/><circle cx="548.9" cy="947.3" r="5.25"/><circle cx="569" cy="941.4" r="5.25"/><circle cx="583.2" cy="943.7" r="5.25"/><circle cx="593.8" cy="950.8" r="5.25"/><circle cx="589.1" cy="956.7" r="5.25"/><circle cx="609.2" cy="951.4" r="5.25"/><circle cx="603.3" cy="959.1" r="5.25"/><circle cx="619.2" cy="955.6" r="5.25"/><circle cx="619.8" cy="962.6" r="5.25"/><circle cx="615.1" cy="965.6" r="5.25"/><circle cx="623.4" cy="969.7" r="5.25"/><circle cx="618.7" cy="973.9" r="5.25"/><circle cx="572.6" cy="959.1" r="5.25"/><circle cx="579.6" cy="963.8" r="5.25"/><circle cx="593.8" cy="968.6" r="5.25"/><circle cx="596.2" cy="975.7" r="5.25"/><circle cx="591.5" cy="980.4" r="5.25"/><circle cx="596.2" cy="985.1" r="5.25"/><circle cx="600.9" cy="988.1" r="5.25"/><circle cx="608.6" cy="983.9" r="5.25"/><circle cx="585.6" cy="994" r="5.25"/><circle cx="582" cy="994.6" r="5.25"/><circle cx="573.7" cy="998.1" r="5.25"/><circle cx="535.3" cy="1014.1" r="5.25"/><circle cx="559" cy="1021.7" r="5.25"/><circle cx="592.6" cy="1020" r="5.25"/><circle cx="562" cy="967" r="5.25"/><circle cx="569" cy="971" r="5.25"/><circle cx="577" cy="973" r="5.25"/><circle cx="563" cy="980" r="5.25"/><circle cx="571" cy="983" r="5.25"/><circle cx="558" cy="990" r="5.25"/><circle cx="565" cy="994.5" r="5.25"/><circle cx="560.7" cy="1004" r="5.25"/><circle cx="564" cy="1006" r="5.25"/><circle cx="553.6" cy="1002" r="5.25"/><circle cx="544" cy="1004" r="5.25"/><circle cx="539" cy="998" r="5.25"/><circle cx="542" cy="1001.6" r="5.25"/><circle cx="556" cy="960" r="5.25"/><circle cx="548" cy="957" r="5.25"/><circle cx="541" cy="953" r="5.25"/><circle cx="536" cy="950" r="5.25"/><circle cx="585" cy="976" r="5.25"/><circle cx="580" cy="985" r="5.25"/><circle cx="574" cy="990" r="5.25"/><circle cx="587" cy="970" r="5.25"/></g>
<g fill="#fff"><path d="M314 981l5-9 4 1 1 4 11-3 0 4-9 3-4 2z"/><path d="M368 962l14 1 2 3-9 0 1 8 0 12-3 2-4-9 3-8-1-6z"/><path d="M286 959l8-5 1 2-3 4z"/><path d="M410 969l3 1 1 3-3-1z"/><path d="M508 961l5-4 6 0-2 4-6 2z"/><path d="M450 976l3-2 1 1-3 2z"/><path d="M539 968l5-2 3 0-4 2z"/><path d="M538 997l3-5 6-3 1 2-5 2-2 4z"/></g>
<rect x="376.5" y="476" width="53.5" height="652" fill="#1f77b4" fill-opacity="0.1"/>
<path fill="none" stroke="#ea3323" stroke-width="8" stroke-linecap="butt" d="M266.2 1000.5L283.6 1081M283.6 1080.6L404 1016.6M404 1016.6L876.5 829"/>
<line x1="284" y1="476" x2="284" y2="1128" stroke="#4f83b5" stroke-width="4"/>
<line x1="404" y1="476" x2="404" y2="1128" stroke="#4f83b5" stroke-width="4"/>
<rect x="235.2" y="476" width="669.6" height="652" fill="none" stroke="#3a3a3a" stroke-width="2"/>
<path d="M266.5 1128v7.5M374.5 1128v7.5M482.5 1128v7.5M590.5 1128v7.5M698.5 1128v7.5M806.5 1128v7.5M235.2 1108.0h-7.5M235.2 1022.0h-7.5M235.2 936.0h-7.5M235.2 850.0h-7.5M235.2 764.0h-7.5M235.2 678.0h-7.5M235.2 592.0h-7.5M235.2 506.0h-7.5" stroke="#3a3a3a" stroke-width="2" fill="none"/>
<g font-family="'DejaVu Sans','Liberation Sans',sans-serif" font-size="21.5" fill="#262626" stroke="#262626" stroke-width="0.35"><text x="260.6" y="1157" textLength="11.8" lengthAdjust="spacingAndGlyphs">0</text><text x="368.6" y="1157" textLength="11.8" lengthAdjust="spacingAndGlyphs">2</text><text x="476.6" y="1157" textLength="11.8" lengthAdjust="spacingAndGlyphs">4</text><text x="584.6" y="1157" textLength="11.8" lengthAdjust="spacingAndGlyphs">6</text><text x="692.6" y="1157" textLength="11.8" lengthAdjust="spacingAndGlyphs">8</text><text x="794.7" y="1157" textLength="23.6" lengthAdjust="spacingAndGlyphs">10</text><text x="211.2" y="1116.9" textLength="11.8" lengthAdjust="spacingAndGlyphs">0</text><text x="195.7" y="1031.2" textLength="23.6" lengthAdjust="spacingAndGlyphs">25</text><text x="195.7" y="944.7" textLength="23.6" lengthAdjust="spacingAndGlyphs">50</text><text x="195.7" y="857.3" textLength="23.6" lengthAdjust="spacingAndGlyphs">75</text><text x="181.9" y="770.5" textLength="35.4" lengthAdjust="spacingAndGlyphs">100</text><text x="181.9" y="684.5" textLength="35.4" lengthAdjust="spacingAndGlyphs">125</text><text x="181.9" y="598.5" textLength="35.4" lengthAdjust="spacingAndGlyphs">150</text><text x="181.9" y="512.5" textLength="35.4" lengthAdjust="spacingAndGlyphs">175</text></g>
</g>
<!--/PLOT-->
</svg>
</body>
</html>
